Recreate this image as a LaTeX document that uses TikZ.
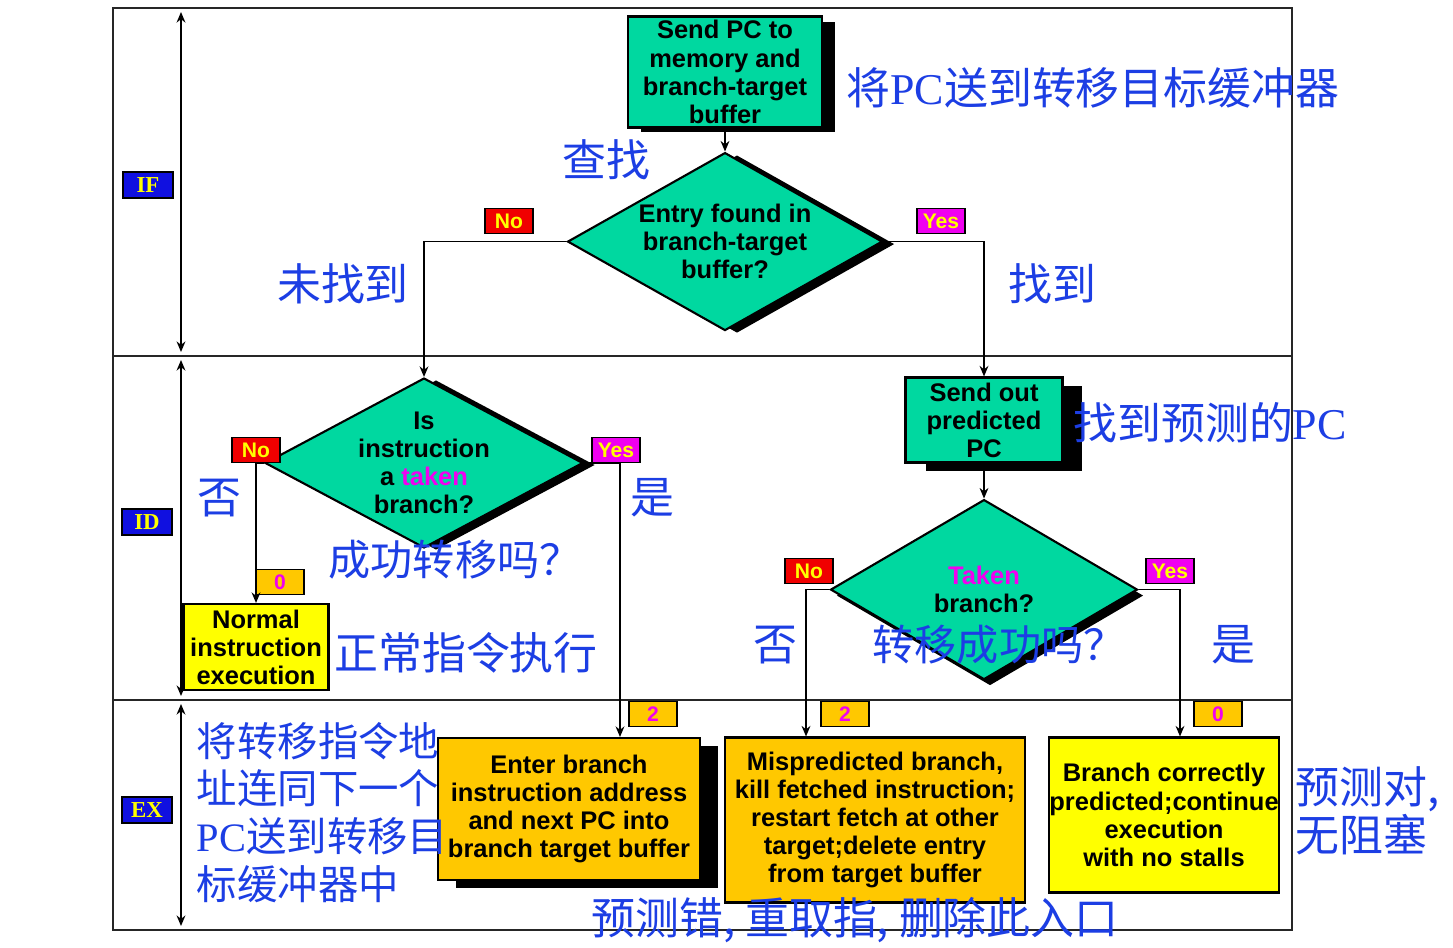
\documentclass[tikz,border=0pt]{standalone}
\usepackage{fontspec}
\setmainfont{Liberation Serif}
\setsansfont{Liberation Sans}
\newfontfamily\cjk{Noto Sans CJK SC}
\usetikzlibrary{arrows.meta,positioning,shapes.geometric,shadows}
\definecolor{bgreen}{RGB}{0,216,160}
\definecolor{bgold}{RGB}{255,200,0}
\definecolor{byellow}{RGB}{255,255,0}
\definecolor{bred}{RGB}{240,0,0}
\definecolor{bmagenta}{RGB}{240,0,240}
\definecolor{bblue}{RGB}{16,16,224}
\definecolor{zhblue}{RGB}{28,62,228}

\begin{document}
\begin{tikzpicture}[x=0.02cm,y=-0.02cm,line width=1pt,
      >={Stealth[length=6pt,width=5pt]},
      box/.style={draw,line width=1.2pt,align=center,inner sep=0pt,
        font=\sffamily\bfseries\fontsize{14.5}{16}\selectfont},
      dec/.style={diamond,draw,line width=1.2pt,align=center,fill=bgreen,
        inner xsep=0pt,inner ysep=-5pt,
        font=\sffamily\bfseries\fontsize{14.5}{16}\selectfont},
      shd/.style 2 args={drop shadow={shadow xshift=#1,shadow yshift=#2,
        fill=black,opacity=1}},
      tag/.style={draw,line width=0.8pt,minimum width=0.96cm,minimum height=0.5cm,
        inner sep=0pt,font=\sffamily\bfseries\fontsize{12}{12}\selectfont},
      nolab/.style={tag,fill=bred,text=byellow},
      yeslab/.style={tag,fill=bmagenta,text=byellow},
      cyclab/.style={tag,fill=bgold,text=bmagenta},
      stagelab/.style={tag,minimum width=1cm,minimum height=0.52cm,fill=bblue,
        text=byellow,font=\rmfamily\bfseries\fontsize{13}{13}\selectfont},
      zh/.style={text=zhblue,inner sep=0pt,font=\fontsize{25}{30}\selectfont\cjk},
      frame/.style={line width=1.5pt,draw=black!85}]
  \fill[white] (0,0) rectangle (1453,947);
  \useasboundingbox (0,0) rectangle (1453,947);

  % stage frame
  \draw[frame] (113,8) rectangle (1292,930);
  \draw[frame] (113,356) -- (1292,356) (113,700) -- (1292,700);
  \foreach \ya/\yb in {12/352,360/696,704/926}
    \draw[<->] (181,\ya) -- (181,\yb);
  \node[stagelab] (if) at (148,185) {IF};
  \node[stagelab] (id) at (147,522) {ID};
  \node[stagelab] (ex) at (147,810) {EX};

  % IF
  \node[box,fill=bgreen,shd={0.26cm}{-0.1cm},minimum width=3.88cm,minimum height=2.22cm]
    (sendpc) at (725,72) {Send PC to\\memory and\\branch-target\\buffer};
  \node[dec,shd={0.24cm}{-0.05cm},aspect=1.77,minimum width=6.3cm,minimum height=3.56cm,
    below=0.46cm of sendpc] (found) {Entry found in\\branch-target\\buffer?};
  \node[nolab] (no1) at (509,221) {No};
  \node[yeslab] (yes1) at (941,221) {Yes};

  % ID
  \node[dec,shd={0.24cm}{-0.04cm},aspect=1.87,minimum width=6.36cm,minimum height=3.4cm]
    (isbr) at (424,463) {Is\\instruction\\a \textcolor{bmagenta}{taken}\\branch?};
  \node[box,fill=bgreen,shd={0.4cm}{-0.16cm},minimum width=3.14cm,minimum height=1.7cm]
    (predpc) at (984,420) {Send out\\predicted\\PC};
  \node[dec,shd={0.12cm}{-0.12cm},aspect=1.7,minimum width=6.14cm,minimum height=3.6cm,
    below=0.7cm of predpc] (taken) {\textcolor{bmagenta}{Taken}\\branch?};
  \node[box,fill=byellow,minimum width=2.9cm,minimum height=1.72cm]
    (normal) at (256,647) {Normal\\instruction\\execution};
  \node[nolab] (no2) at (256,450) {No};
  \node[yeslab] (yes2) at (616,450) {Yes};
  \node[cyclab] (c0a) at (280,582) {0};
  \node[nolab] (no3) at (809,571) {No};
  \node[yeslab] (yes3) at (1170,571) {Yes};

  % EX
  \node[box,fill=bgold,shd={0.36cm}{-0.16cm},minimum width=5.24cm,minimum height=2.84cm]
    (enter) at (569,809) {Enter branch\\instruction address\\and next PC into\\branch target buffer};
  \node[box,fill=bgold,minimum width=6cm,minimum height=3.3cm]
    (mispred) at (875,820) {Mispredicted branch,\\kill fetched instruction;\\restart fetch at other\\target;delete entry\\from target buffer};
  \node[box,fill=byellow,minimum width=4.58cm,minimum height=3.1cm]
    (correct) at (1164,815) {Branch correctly\\predicted;continue\\execution\\with no stalls};
  \node[cyclab] (c2a) at (653,714) {2};
  \node[cyclab] (c2b) at (845,714) {2};
  \node[cyclab] (c0b) at (1218,714) {0};

  % flow
  \draw[->] (sendpc) -- (found);
  \draw[->] (found.west) -| (isbr.north);
  \draw[->] (found.east) -| (predpc.north);
  \draw[->] (isbr.west) -| (normal.north);
  \draw[->] (isbr.east) -| ([xshift=1.02cm]enter.north);
  \draw[->] (predpc) -- (taken);
  \draw[->] (taken.west) -| ([xshift=-1.38cm]mispred.north);
  \draw[->] (taken.east) -| ([xshift=0.32cm]correct.north);

  % notes
  \node[zh] (zsend) at (1093,88) {将\textrm{PC}送到转移目标缓冲器};
  \node[zh] (zlook) at (606,160) {查找};
  \node[zh] (zmiss) at (343,284) {未找到};
  \node[zh] (zhit) at (1052,284) {找到};
  \node[zh] (zpred) at (1210,423) {找到预测的\textrm{PC}};
  \node[zh] (zno1) at (219,498) {否};
  \node[zh] (zyes1) at (652,498) {是};
  \node[zh,font=\fontsize{24}{30}\selectfont\cjk] (zask1) at (455,560) {成功转移吗？};
  \node[zh] (znorm) at (466,653) {正常指令执行};
  \node[zh] (zno2) at (775,645) {否};
  \node[zh,font=\fontsize{24}{30}\selectfont\cjk] (zask2) at (999,645) {转移成功吗？};
  \node[zh] (zyes2) at (1233,645) {是};
  \node[zh,align=left,anchor=north west,font=\fontsize{23}{27.2}\selectfont\cjk]
    (zenter) at (196,721) {将转移指令地\\址连同下一个\\\textrm{PC}送到转移目\\标缓冲器中};
  \node[zh,align=left,anchor=north west,font=\fontsize{25}{23.8}\selectfont\cjk]
    (zok) at (1295,766) {预测对,\\无阻塞};
  \node[zh] (zbad) at (855,920) {预测错, 重取指, 删除此入口};
\end{tikzpicture}
\end{document}
